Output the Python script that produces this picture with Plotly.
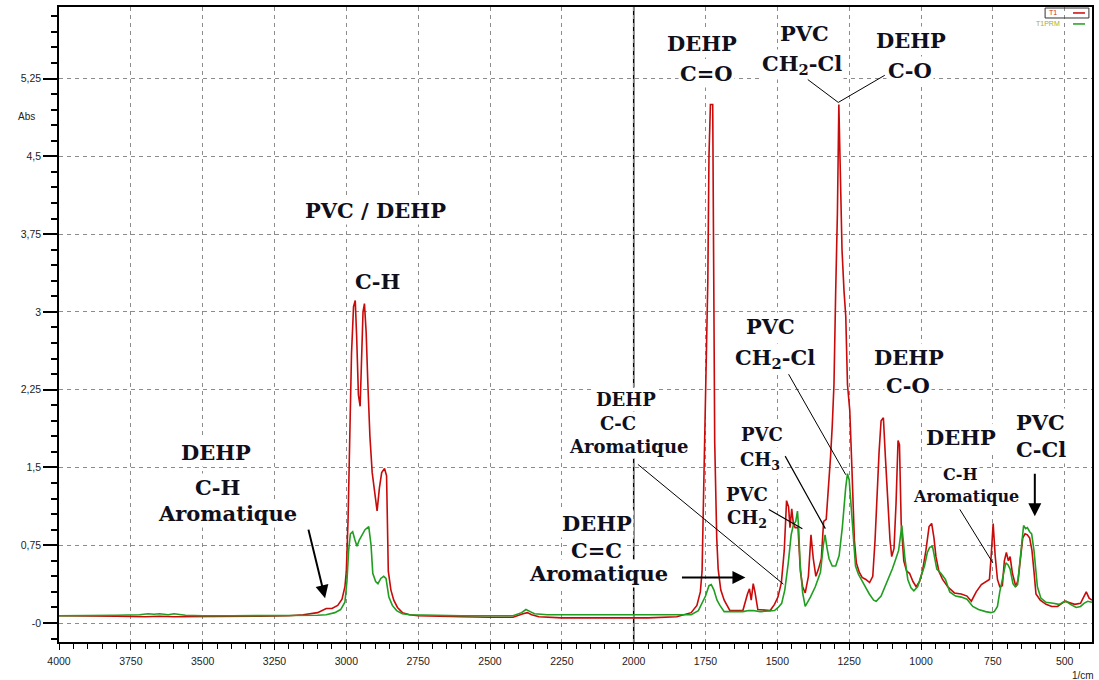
import plotly.graph_objects as go

# ---- FTIR absorbance spectra (wavenumber in 1/cm, absorbance) ----
wn_t1 = [4000, 3900, 3800, 3700, 3650, 3600, 3500, 3400, 3300, 3200, 3150, 3100, 3085, 3070, 3050,
         3030, 3015, 3005, 3000, 2994, 2988, 2982, 2975, 2969, 2964, 2958, 2952, 2947, 2942, 2937,
         2931, 2925, 2918, 2910, 2900, 2893, 2885, 2877, 2867, 2860, 2854, 2845, 2835, 2822, 2805,
         2780, 2750, 2700, 2600, 2500, 2420, 2385, 2370, 2355, 2330, 2250, 2100, 1950, 1850, 1800,
         1780, 1768, 1762, 1756, 1748, 1742, 1738, 1733, 1725, 1722, 1718, 1711, 1706, 1697, 1685,
         1665, 1620, 1604, 1597, 1591, 1584, 1578, 1568, 1525, 1510, 1498, 1486, 1476, 1468, 1461,
         1456, 1450, 1444, 1438, 1428, 1420, 1412, 1403, 1392, 1383, 1375, 1366, 1357, 1347, 1339,
         1330, 1322, 1315, 1309, 1303, 1297, 1291, 1286, 1281, 1275, 1268, 1262, 1256, 1248, 1240,
         1232, 1225, 1215, 1205, 1192, 1179, 1168, 1160, 1153, 1146, 1139, 1131, 1124, 1116, 1108,
         1102, 1094, 1087, 1080, 1075, 1069, 1060, 1050, 1040, 1028, 1017, 1005, 995, 983, 972,
         963, 955, 948, 938, 925, 907, 884, 860, 840, 825, 808, 790, 770, 762, 756,
         749, 742, 734, 726, 717, 710, 703, 696, 690, 682, 670, 662, 654, 646, 638,
         630, 622, 614, 607, 600, 585, 565, 545, 525, 500, 485, 465, 445, 432, 425,
         415, 405]
abs_t1 = [0.07, 0.07, 0.065, 0.06, 0.065, 0.06, 0.06, 0.06, 0.065, 0.07, 0.08, 0.10, 0.12, 0.14, 0.14,
          0.17, 0.23, 0.35, 0.50, 1.00, 1.80, 2.60, 3.05, 3.11, 2.75, 2.20, 2.09, 2.60, 3.00, 3.08,
          2.80, 2.30, 1.80, 1.45, 1.20, 1.08, 1.30, 1.45, 1.49, 1.42, 0.50, 0.32, 0.22, 0.15, 0.10,
          0.08, 0.07, 0.065, 0.06, 0.055, 0.055, 0.09, 0.10, 0.08, 0.06, 0.05, 0.05, 0.05, 0.06, 0.10,
          0.17, 0.30, 0.50, 1.40, 2.60, 3.30, 4.50, 5.00, 5.00, 3.80, 1.74, 0.82, 0.52, 0.32, 0.22,
          0.12, 0.12, 0.28, 0.33, 0.22, 0.38, 0.30, 0.13, 0.12, 0.18, 0.25, 0.39, 0.70, 1.18, 1.12,
          0.92, 1.10, 0.95, 0.92, 0.92, 0.50, 0.35, 0.29, 0.45, 0.85, 0.62, 0.45, 0.52, 0.62, 0.98,
          1.00, 1.30, 1.60, 1.90, 2.30, 3.20, 3.95, 5.00, 4.30, 3.60, 3.20, 2.96, 2.30, 2.05, 1.45,
          0.80, 0.58, 0.49, 0.44, 0.42, 0.39, 0.45, 0.80, 1.30, 1.65, 1.95, 1.98, 1.60, 1.18, 0.80,
          0.64, 0.72, 1.15, 1.76, 1.72, 0.96, 0.60, 0.50, 0.48, 0.40, 0.35, 0.40, 0.50, 0.70, 0.93,
          0.96, 0.82, 0.64, 0.50, 0.42, 0.35, 0.29, 0.28, 0.26, 0.21, 0.30, 0.37, 0.40, 0.42, 0.64,
          0.96, 0.65, 0.42, 0.35, 0.36, 0.60, 0.68, 0.60, 0.64, 0.48, 0.35, 0.42, 0.65, 0.82, 0.86,
          0.85, 0.82, 0.70, 0.50, 0.28, 0.22, 0.18, 0.16, 0.16, 0.21, 0.20, 0.18, 0.19, 0.26, 0.30,
          0.24, 0.22]

wn_t1prm = [4000, 3900, 3800, 3720, 3690, 3670, 3650, 3620, 3600, 3560, 3500, 3400, 3300, 3200, 3100,
            3070, 3040, 3020, 3005, 2998, 2992, 2986, 2978, 2970, 2963, 2955, 2945, 2935, 2922, 2914,
            2908, 2898, 2890, 2880, 2870, 2862, 2852, 2840, 2825, 2805, 2780, 2700, 2600, 2500, 2420,
            2390, 2375, 2360, 2345, 2300, 2200, 2100, 2000, 1900, 1800, 1775, 1760, 1750, 1738, 1730,
            1721, 1710, 1700, 1685, 1620, 1600, 1585, 1560, 1510, 1497, 1485, 1474, 1462, 1452, 1444,
            1436, 1430, 1426, 1421, 1412, 1403, 1395, 1385, 1368, 1350, 1340, 1334, 1327, 1320, 1309,
            1297, 1285, 1274, 1262, 1256, 1250, 1244, 1238, 1228, 1218, 1205, 1195, 1180, 1165, 1156,
            1139, 1125, 1116, 1100, 1090, 1078, 1071, 1067, 1062, 1056, 1046, 1035, 1025, 1012, 1000,
            988, 978, 970, 960, 952, 945, 931, 915, 900, 880, 860, 840, 820, 800, 775,
            757, 745, 734, 726, 718, 705, 697, 690, 680, 672, 664, 657, 650, 643, 636,
            630, 622, 615, 607, 600, 595, 583, 565, 540, 520, 505, 495, 480, 460, 445,
            433, 420, 405]
abs_t1prm = [0.07, 0.07, 0.075, 0.08, 0.09, 0.085, 0.09, 0.08, 0.09, 0.075, 0.07, 0.07, 0.07, 0.07, 0.075,
             0.08, 0.10, 0.13, 0.20, 0.40, 0.70, 0.86, 0.88, 0.80, 0.74, 0.80, 0.85, 0.90, 0.93, 0.75,
             0.48, 0.40, 0.38, 0.43, 0.45, 0.43, 0.25, 0.17, 0.12, 0.09, 0.08, 0.075, 0.07, 0.07, 0.07,
             0.10, 0.13, 0.11, 0.09, 0.08, 0.08, 0.085, 0.085, 0.085, 0.08, 0.12, 0.20, 0.26, 0.36, 0.37,
             0.32, 0.22, 0.17, 0.11, 0.11, 0.12, 0.12, 0.11, 0.12, 0.15, 0.19, 0.32, 0.58, 0.85, 0.95,
             0.98, 1.08, 0.92, 0.58, 0.29, 0.16, 0.20, 0.25, 0.35, 0.49, 0.75, 0.85, 0.72, 0.62, 0.55,
             0.55, 0.65, 0.92, 1.31, 1.44, 1.38, 1.15, 0.85, 0.55, 0.47, 0.40, 0.36, 0.28, 0.22, 0.21,
             0.26, 0.35, 0.42, 0.52, 0.60, 0.70, 0.85, 0.94, 0.80, 0.62, 0.42, 0.34, 0.31, 0.35, 0.45,
             0.55, 0.68, 0.73, 0.74, 0.60, 0.52, 0.48, 0.42, 0.30, 0.26, 0.25, 0.23, 0.16, 0.13, 0.11,
             0.10, 0.11, 0.16, 0.30, 0.42, 0.58, 0.56, 0.52, 0.38, 0.35, 0.37, 0.55, 0.78, 0.94, 0.91,
             0.92, 0.88, 0.86, 0.70, 0.45, 0.35, 0.24, 0.20, 0.19, 0.18, 0.20, 0.21, 0.18, 0.15, 0.16,
             0.19, 0.21, 0.20]

x_ticks = [4000, 3750, 3500, 3250, 3000, 2750, 2500, 2250, 2000, 1750, 1500, 1250, 1000, 750, 500]
y_ticks = [0, 0.75, 1.5, 2.25, 3, 3.75, 4.5, 5.25]
y_tick_labels = ["-0", "0,75", "1,5", "2,25", "3", "3,75", "4,5", "5,25"]

RED = "#c80a0a"
GREEN = "#1f9e1f"
INK = "#10101c"
SERIF = "DejaVu Serif"
SANS = "Liberation Sans"

fig = go.Figure()
fig.add_trace(go.Scatter(x=wn_t1, y=abs_t1, mode="lines", name="T1",
                         line=dict(color=RED, width=1.6)))
fig.add_trace(go.Scatter(x=wn_t1prm, y=abs_t1prm, mode="lines", name="T1PRM",
                         line=dict(color=GREEN, width=1.6)))

# cursor line at 2000 1/cm
fig.add_shape(type="line", xref="x", yref="paper", x0=2000, x1=2000, y0=0, y1=1,
              line=dict(color="black", width=1.5), layer="below")

annotations = []


def label(text, x, y, size=21):
    annotations.append(dict(text="<b>" + text + "</b>", x=x, y=y, xref="x", yref="y",
                            showarrow=False, bgcolor="white", borderpad=1,
                            font=dict(family=SERIF, size=size, color=INK)))


def pointer(x, y, ax, ay, head=0, width=1.0, size=1.0):
    annotations.append(dict(text="", x=x, y=y, xref="x", yref="y", ax=ax, ay=ay,
                            showarrow=True, arrowhead=head, arrowwidth=width,
                            arrowsize=size, arrowcolor="black", standoff=0))


# band assignments
label("DEHP", 1761, 5.59)
label("C=O", 1747, 5.30)
label("PVC", 1404, 5.68)
label("CH<sub>2</sub>-Cl", 1413, 5.39)
label("DEHP", 1035, 5.62)
label("C-O", 1038, 5.33)
pointer(1288, 5.02, -32, -24)
pointer(1288, 5.02, 48, -28)

label("PVC / DEHP", 2900, 3.98)
label("C-H", 2890, 3.29)

label("DEHP", 3452, 1.64)
label("C-H", 3449, 1.31)
label("Aromatique", 3414, 1.06)
pointer(3074, 0.24, -17, -70, head=2, width=2, size=1.3)

label("DEHP", 2028, 2.16, 18)
label("C-C", 2053, 1.92, 18)
label("Aromatique", 2018, 1.70, 18)
pointer(1479, 0.375, -147, -121)

label("DEHP", 2129, 0.96)
label("C=C", 2129, 0.70)
label("Aromatique", 2122, 0.48)
pointer(1611, 0.44, -65, 0, head=2, width=2, size=1.3)

label("PVC", 1524, 2.86)
label("CH<sub>2</sub>-Cl", 1507, 2.55)
pointer(1262, 1.43, -58, -102)

label("PVC", 1552, 1.82, 18)
label("CH<sub>3</sub>", 1559, 1.56, 18)
pointer(1333, 0.91, -41, -74, width=1.2)

label("PVC", 1604, 1.24, 18)
label("CH<sub>2</sub>", 1604, 1.00, 18)
pointer(1413, 0.91, -35, -20, width=1.2)

label("DEHP", 1042, 2.56)
label("C-O", 1047, 2.29)

label("DEHP", 861, 1.79)
label("C-H", 861, 1.43, 16)
label("Aromatique", 844, 1.22, 16)
pointer(750, 0.58, -34, -55)

label("PVC", 583, 1.93)
label("C-Cl", 583, 1.67)
pointer(604, 1.03, 0, -44, head=2, width=2, size=1.3)

# axis captions
annotations.append(dict(text="Abs", x=-0.031, y=4.885, xref="paper", yref="y", showarrow=False,
                        xanchor="center", yanchor="middle",
                        font=dict(family=SANS, size=10, color="#222")))
annotations.append(dict(text="1/cm", x=0.991, y=0, xref="paper", yref="paper", yshift=-33,
                        xanchor="center", yanchor="middle", showarrow=False,
                        font=dict(family=SANS, size=10, color="#222")))

# compact legend in the top-right corner
annotations.append(dict(text="T1", x=0.962, y=0.9906, xref="paper", yref="paper", showarrow=False,
                        xanchor="center", yanchor="middle",
                        font=dict(family=SANS, size=7, color="#d03020")))
annotations.append(dict(text="T1PRM", x=0.9575, y=0.9733, xref="paper", yref="paper", showarrow=False,
                        xanchor="center", yanchor="middle",
                        font=dict(family=SANS, size=7, color="#a8b020")))
fig.add_shape(type="rect", xref="paper", yref="paper", x0=0.9546, x1=0.997, y0=0.9827, y1=0.9984,
              line=dict(color="#333", width=1), fillcolor="rgba(0,0,0,0)")
fig.add_shape(type="line", xref="paper", yref="paper", x0=0.9816, x1=0.9932, y0=0.9906, y1=0.9906,
              line=dict(color=RED, width=1.5))
fig.add_shape(type="line", xref="paper", yref="paper", x0=0.9816, x1=0.9932, y0=0.9733, y1=0.9733,
              line=dict(color=GREEN, width=1.5))

grid = dict(showgrid=True, gridcolor="#8c8c8c", gridwidth=1, griddash="4px,4px")

fig.update_layout(
    width=1099, height=680,
    margin=dict(l=59, r=5, t=5, b=38),
    paper_bgcolor="white", plot_bgcolor="white",
    showlegend=False,
    annotations=annotations,
    xaxis=dict(range=[4000, 405], tickvals=x_ticks, ticktext=[str(v) for v in x_ticks],
               ticks="outside", ticklen=6, tickwidth=1, tickcolor="black",
               showline=True, linecolor="black", linewidth=1.5, mirror=True, zeroline=False,
               tickfont=dict(family=SANS, size=10.5, color="#222"),
               ticklabelstandoff=3,
               minor=dict(dtick=50, tick0=0, ticks="outside", ticklen=5, tickcolor="black",
                          showgrid=False),
               **grid),
    yaxis=dict(range=[-0.183, 5.94], tickvals=y_ticks, ticktext=y_tick_labels,
               ticks="outside", ticklen=14, tickwidth=1.5, tickcolor="black",
               showline=True, linecolor="black", linewidth=1.5, mirror=True, zeroline=False,
               tickfont=dict(family=SANS, size=10.5, color="#222"),
               minor=dict(dtick=0.15, tick0=0, ticks="outside", ticklen=6, tickcolor="black",
                          showgrid=False),
               **grid),
)

fig.write_html("out.html")
